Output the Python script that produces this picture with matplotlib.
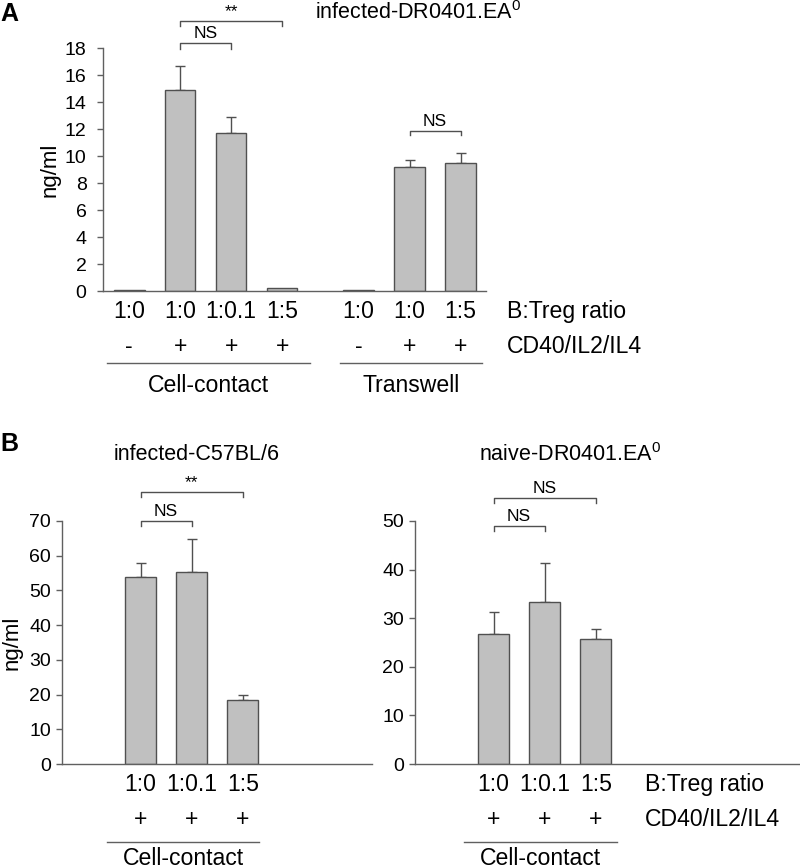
import numpy as np
import matplotlib
matplotlib.use("Agg")
import matplotlib.pyplot as plt

plt.rcParams["font.family"] = ["Liberation Sans", "DejaVu Sans"]
plt.rcParams["mathtext.fontset"] = "custom"
plt.rcParams["mathtext.rm"] = "Liberation Sans"

# ---- data ---------------------------------------------------------------
a_ratio = ["1:0", "1:0", "1:0.1", "1:5", "1:0", "1:0", "1:5"]
a_stim = ["-", "+", "+", "+", "-", "+", "+"]
a_mean = [0.1, 14.9, 11.7, 0.2, 0.1, 9.2, 9.5]
a_err = [0.0, 1.8, 1.2, 0.0, 0.0, 0.5, 0.7]
a_pos = [0, 1, 2, 3, 4.5, 5.5, 6.5]

b_ratio = ["1:0", "1:0.1", "1:5"]
b_stim = ["+", "+", "+"]
b1_mean = [54.0, 55.4, 18.4]
b1_err = [3.8, 9.5, 1.6]
b2_mean = [26.7, 33.4, 25.8]
b2_err = [4.6, 8.0, 2.0]
b_pos = [0, 1, 2]

BAR = "#c0c0c0"
EDGE = "#505050"
SPINE = "#606060"
W = 0.6
FS = 16.6

fig = plt.figure(figsize=(8, 8.68), dpi=100)


def panel(rect, pos, mean, err, ymax, ystep, xlim, pad):
    ax = fig.add_axes(rect)
    ax.bar(pos, mean, width=W, color=BAR, edgecolor=EDGE, linewidth=1, zorder=2)
    for x, m, e in zip(pos, mean, err):
        if e > 0:
            ax.errorbar(x, m, yerr=[[0], [e]], fmt="none", ecolor=EDGE,
                        elinewidth=1, capsize=3.5, capthick=1, zorder=1)
    ax.set_xlim(*xlim)
    ax.set_ylim(0, ymax)
    ax.set_yticks(np.arange(0, ymax + 1, ystep))
    ax.set_xticks([])
    for s in ["top", "right"]:
        ax.spines[s].set_visible(False)
    for s in ["left", "bottom"]:
        ax.spines[s].set_color(SPINE)
        ax.spines[s].set_linewidth(1)
    ax.tick_params(axis="y", direction="out", length=4, width=1,
                   color=SPINE, labelsize=14, pad=pad)
    return ax


def rows(ax, pos, ratio, stim, groups, right_x=None):
    tr = ax.get_xaxis_transform()
    for x, r, s in zip(pos, ratio, stim):
        ax.text(x, -0.086, r, transform=tr, ha="center", va="center", fontsize=FS)
        ax.text(x, -0.230, s, transform=tr, ha="center", va="center", fontsize=FS)
    for x0, x1, name, ly in groups:
        ax.plot([x0, x1], [ly, ly], transform=tr, color=SPINE, lw=1, clip_on=False)
        ax.text((x0 + x1) / 2, -0.387, name, transform=tr, ha="center",
                va="center", fontsize=FS)
    if right_x is not None:
        ax.text(right_x, -0.086, "B:Treg ratio", transform=tr, ha="left",
                va="center", fontsize=FS)
        ax.text(right_x, -0.230, "CD40/IL2/IL4", transform=tr, ha="left",
                va="center", fontsize=FS)


def bracket(ax, x0, x1, y, h, label, fs=12.5):
    ax.plot([x0, x0, x1, x1], [y - h, y, y, y - h], color=EDGE, lw=1, clip_on=False)
    ax.annotate(label, (0.5 * (x0 + x1), y), xytext=(0, 1.5), textcoords="offset points",
                ha="center", va="bottom", fontsize=fs, annotation_clip=False)


# ---- A ------------------------------------------------------------------
axA = panel([0.129, 0.6647, 0.4787, 0.28], a_pos, a_mean, a_err, 18, 2, (-0.51, 7.0), 8)
axA.set_ylabel("ng/ml", fontsize=16)
axA.yaxis.set_label_coords(-0.112, 0.5)
rows(axA, a_pos, a_ratio, a_stim,
     [(-0.43, 3.55, "Cell-contact", -0.296), (4.14, 6.92, "Transwell", -0.296)],
     right_x=7.41)
bracket(axA, 1, 3, 20.0, 0.35, "**")
bracket(axA, 1, 2, 18.4, 0.45, "NS")
bracket(axA, 5.5, 6.5, 11.85, 0.3, "NS")
axA.text(0.822, 1.144, r"infected-DR0401.EA$^{0}$", transform=axA.transAxes,
         ha="center", va="center", fontsize=15.5)

# ---- B left -------------------------------------------------------------
axB1 = panel([0.0775, 0.1198, 0.3875, 0.28], b_pos, b1_mean, b1_err, 70, 10, (-1.54, 4.53), 4)
axB1.set_ylabel("ng/ml", fontsize=16)
axB1.yaxis.set_label_coords(-0.128, 0.5)
rows(axB1, b_pos, b_ratio, b_stim, [(-0.66, 2.32, "Cell-contact", -0.321)])
bracket(axB1, 0, 2, 78.3, 1.4, "**")
bracket(axB1, 0, 1, 70.1, 1.5, "NS")
axB1.text(0.435, 1.272, "infected-C57BL/6", transform=axB1.transAxes,
          ha="center", va="center", fontsize=15.5)

# ---- B right ------------------------------------------------------------
axB2 = panel([0.51875, 0.1198, 0.48125, 0.28], b_pos, b2_mean, b2_err, 50, 10, (-1.54, 6.0), 4)
rows(axB2, b_pos, b_ratio, b_stim, [(-0.58, 2.42, "Cell-contact", -0.321)], right_x=2.97)
bracket(axB2, 0, 2, 54.8, 1.0, "NS")
bracket(axB2, 0, 1, 49.0, 1.0, "NS")
axB2.text(0.403, 1.272, r"naive-DR0401.EA$^{0}$", transform=axB2.transAxes,
          ha="center", va="center", fontsize=15.5)

fig.text(0.001, 1 - 14 / 868, "A", fontsize=18, fontweight="bold", va="center")
fig.text(0.001, 1 - 444 / 868, "B", fontsize=18, fontweight="bold", va="center")

fig.savefig("out.png", dpi=100)
